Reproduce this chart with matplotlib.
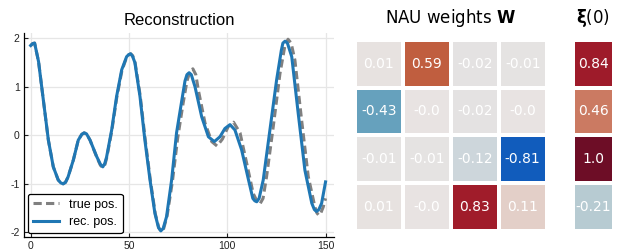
import matplotlib
matplotlib.use('Agg')
import matplotlib.pyplot as plt
import numpy as np
from matplotlib.colors import LinearSegmentedColormap, Normalize

# Reconstruccion: posicion verdadera y reconstruida
t_true = [0, 1, 2, 4, 5.6, 7.3, 9, 11.5, 14, 15.3, 16.5, 17.7, 19, 21.7, 24.2, 26, 27.2, 28.4,
          30.2, 33.6, 35.5, 36.8, 37.8, 38.7, 41.3, 43.8, 46.4, 48.9, 49.9, 50.9, 51.9, 53.1,
          55.7, 58.3, 60.9, 63.4, 65.2, 66.4, 67.6, 69.4, 72.1, 74.8, 77.5, 79.5, 81, 82.5, 84,
          85.3, 88.7, 92.1, 94.8, 97.5, 100.5, 103.2, 106.5, 109.9, 113.2, 115.3, 116.7, 118.2,
          120, 123.4, 126.8, 129.2, 130.9, 132.5, 134.4, 137.8, 141.2, 144.6, 145.6, 146.6,
          147.6, 148.8, 150]
pos_true = [1.85, 1.89, 1.9, 1.52, 1.0, 0.45, -0.1, -0.65, -0.92, -0.98, -1.0, -0.97, -0.86, -0.51,
            -0.1, 0.02, 0.05, 0.03, -0.1, -0.45, -0.62, -0.67, -0.6, -0.46, 0.1, 0.78, 1.33, 1.62,
            1.66, 1.68, 1.64, 1.5, 0.82, -0.1, -0.93, -1.62, -1.91, -1.98, -1.93, -1.66, -0.95,
            -0.05, 0.65, 1.12, 1.31, 1.37, 1.25, 0.93, 0.25, -0.13, -0.22, -0.08, 0.18, 0.27, 0.05,
            -0.58, -1.2, -1.37, -1.41, -1.3, -0.85, 0.18, 1.27, 1.82, 1.98, 1.9, 1.55, 0.32, -0.85,
            -1.48, -1.6, -1.65, -1.6, -1.48, -1.3]

t_rec = [0, 1, 2, 4, 5.6, 7.3, 9, 11.5, 14, 15.3, 16.5, 17.7, 19, 21.7, 24.2, 26, 27.2, 28.4,
         30.2, 33.6, 35.5, 36.7, 37.7, 38.6, 41.2, 43.7, 46.3, 48.8, 49.8, 50.8, 51.8, 53,
         55.6, 58.1, 60.7, 63.2, 65, 66.2, 67.4, 69.1, 71.7, 74.2, 76.8, 78.5, 79.5, 80.6, 81.7,
         83.6, 87, 90.4, 93.4, 96.3, 98.8, 101.4, 103.9, 107.3, 110.7, 113, 114, 115, 116.2,
         118.3, 121.7, 125.1, 127.5, 128.3, 129.4, 130.6, 132.8, 136.1, 139.5, 143, 144.3,
         145.4, 146.6, 148, 150]
pos_rec = [1.85, 1.89, 1.9, 1.52, 1.0, 0.45, -0.1, -0.65, -0.92, -0.98, -1.0, -0.97, -0.86, -0.51,
           -0.1, 0.02, 0.05, 0.03, -0.1, -0.44, -0.6, -0.65, -0.58, -0.45, 0.11, 0.8, 1.35, 1.62,
           1.66, 1.68, 1.63, 1.5, 0.8, -0.1, -0.92, -1.61, -1.9, -1.97, -1.92, -1.68, -0.92,
           0.05, 0.7, 1.12, 1.25, 1.29, 1.25, 1.0, 0.38, -0.03, -0.13, -0.03, 0.14, 0.22, 0.11,
           -0.3, -0.9, -1.3, -1.35, -1.37, -1.3, -0.92, 0.11, 1.14, 1.75, 1.9, 1.94, 1.9, 1.62,
           0.45, -0.72, -1.4, -1.53, -1.57, -1.53, -1.4, -0.96]

# Pesos NAU y estado inicial
W = [[0.01, 0.59, -0.02, -0.01],
     [-0.43, -0.0, -0.02, -0.0],
     [-0.01, -0.01, -0.12, -0.81],
     [0.01, -0.0, 0.83, 0.11]]
xi0 = [0.84, 0.46, 1.0, -0.21]

# colormap divergente (azul - gris - rojo)
cmap = LinearSegmentedColormap.from_list('bal', [
    (0.0, '#0b2b7a'), (0.095, '#115cbd'), (0.285, '#67a2bd'), (0.395, '#b6cbd2'),
    (0.44, '#cdd6db'), (0.5, '#e8e4e3'), (0.555, '#e3d0c9'), (0.73, '#cb7a62'),
    (0.795, '#c05f3f'), (0.92, '#9f1b2a'), (1.0, '#6d0d26')])
norm = Normalize(vmin=-1, vmax=1)

W_PX = 618
H_PX = 250
fig = plt.figure(figsize=(W_PX / 100, H_PX / 100), dpi=100)

def px_axes(x0, x1, y0, y1):
    return fig.add_axes([x0 / W_PX, 1 - y1 / H_PX, (x1 - x0) / W_PX, (y1 - y0) / H_PX])

# ---- panel izquierdo
lfont = 'Liberation Sans'
ax = px_axes(23.8, 334.4, 33.4, 237.2)
ax.plot(t_true, pos_true, color='#808080', lw=2.2, dashes=(2.7, 1.4), label='true pos.')
ax.plot(t_rec, pos_rec, color='#1f77b4', lw=2.2, label='rec. pos.')
ax.set_xlim(-3.5, 154.5)
ax.set_ylim(-2.1, 2.1)
ax.set_xticks([0, 50, 100, 150])
ax.set_yticks([-2, -1, 0, 1, 2])
ax.set_yticklabels(['-2', '-1', '0', '1', '2'])
ax.grid(True, color='#e6e6e6', lw=0.9)
ax.set_axisbelow(True)
for s in ['top', 'right']:
    ax.spines[s].set_visible(False)
for s in ['left', 'bottom']:
    ax.spines[s].set_linewidth(0.9)
ax.tick_params(direction='in', length=3, width=0.8, labelsize=7.5, pad=3, colors='#222222')
for lab in ax.get_xticklabels() + ax.get_yticklabels():
    lab.set_family(lfont)
ax.set_title('Reconstruction', fontsize=12, family=lfont, pad=6)
leg = ax.legend(loc='lower left', prop={'family': lfont, 'size': 9}, frameon=True,
                handlelength=2.1, borderaxespad=0.3, borderpad=0.4, labelspacing=0.45,
                handletextpad=0.8)
leg.get_frame().set_edgecolor('black')
leg.get_frame().set_linewidth(0.9)
leg.get_frame().set_alpha(1)

# ---- heatmaps
def heat(axh, M):
    M = np.array(M, dtype=float)
    nr, nc = M.shape
    axh.pcolormesh(np.arange(nc + 1), np.arange(nr + 1), M, cmap=cmap, norm=norm,
                   edgecolors='white', linewidth=1.6)
    for i in range(nr):
        for j in range(nc):
            axh.text(j + 0.5, i + 0.5, str(round(M[i, j], 2)), ha='center', va='center',
                     color='white', fontsize=10)
    axh.set_xlim(0, nc)
    axh.set_ylim(nr, 0)
    axh.set_xticks([])
    axh.set_yticks([])
    for s in axh.spines.values():
        s.set_visible(False)

axw = px_axes(355, 546.7, 39.7, 231)
heat(axw, W)
axw.set_title(r'NAU weights $\mathbf{W}$', fontsize=12, pad=12)

axx = px_axes(573, 613.7, 39.7, 231)
heat(axx, [[v] for v in xi0])
axx.set_title(r'$\mathbf{\xi}$(0)', fontsize=12, pad=12)

fig.savefig('out.png', dpi=100)
